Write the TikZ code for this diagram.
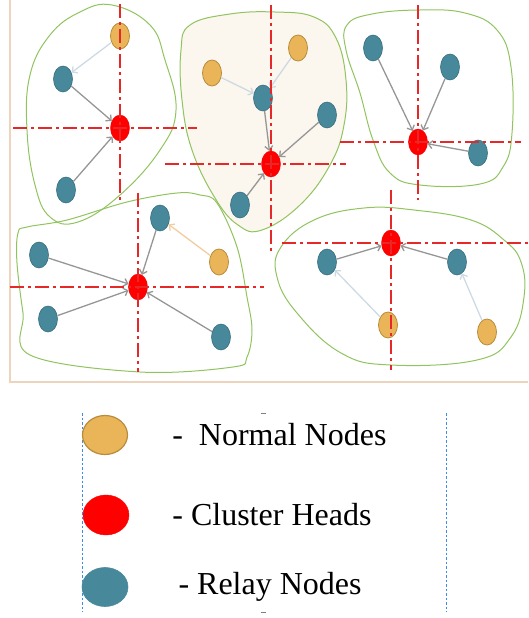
\documentclass[tikz,border=0pt]{standalone}
\usepackage{fontspec}
\setmainfont{Liberation Serif}
\usetikzlibrary{arrows.meta, shapes.geometric, positioning}

\definecolor{normalfill}{RGB}{233,181,88}
\definecolor{normaldraw}{RGB}{185,140,60}
\definecolor{relayfill}{RGB}{71,137,155}
\definecolor{relaydraw}{RGB}{58,112,128}
\definecolor{chred}{RGB}{255,0,0}
\definecolor{linkgray}{RGB}{150,150,150}
\definecolor{linklight}{RGB}{205,218,228}
\definecolor{linkorange}{RGB}{242,205,160}
\definecolor{blobgreen}{RGB}{145,195,95}
\definecolor{blobbeige}{RGB}{251,246,238}
\definecolor{axisred}{RGB}{230,40,40}
\definecolor{framebeige}{RGB}{238,212,188}
\definecolor{legblue}{RGB}{60,140,230}

\begin{document}
\begin{tikzpicture}[
        x=1pt, y=-1pt,
        nnode/.style={ellipse, draw=normaldraw, fill=normalfill, line width=0.8pt, minimum width=19pt, minimum height=26pt, inner sep=0pt},
        rnode/.style={ellipse, draw=relaydraw, fill=relayfill, line width=0.6pt, minimum width=19pt, minimum height=26pt, inner sep=0pt},
        chnode/.style={ellipse, draw=chred, fill=chred, minimum width=19pt, minimum height=26pt, inner sep=0pt},
        link/.style={-{Straight Barb[length=4pt, width=8pt]}, draw=linkgray, line width=1.3pt},
        weak/.style={link, draw=linklight},
        axis/.style={draw=axisred, line width=1.6pt, dash pattern=on 14pt off 4pt on 3pt off 4pt},
        blob/.style={draw=blobgreen, line width=1pt},
        legtext/.style={font=\fontsize{32}{38}\selectfont, inner sep=0pt}
    ]
    \useasboundingbox (0,0) rectangle (528,618);

    % Rahmen
    \draw [framebeige, line width=1.5pt] (10,0) -- (10,382) -- (528,382);

    % Cluster-Umrisse
    \draw [blob, fill=blobbeige] plot [smooth cycle, tension=0.7] coordinates {(190,25) (230,14) (275,12) (314,17) (336,38) (346,80) (344,125) (330,165) (300,205) (262,230) (238,225) (215,198) (192,150) (182,100) (181,50)};
    \draw [blob] plot [smooth cycle, tension=0.7] coordinates {(112,5) (150,25) (165,60) (176,110) (160,150) (120,195) (78,222) (50,217) (35,185) (27,130) (30,75) (50,35) (80,12)};
    \draw [blob] plot [smooth cycle, tension=0.7] coordinates {(347,25) (372,14) (420,10) (465,13) (497,30) (511,67) (512,133) (503,167) (480,184) (420,185) (390,173) (373,140) (360,93) (346,50)};
    \draw [blob] plot [smooth cycle, tension=0.6] coordinates {(27,227) (67,220) (127,202) (177,193) (200,195) (217,203) (237,247) (247,297) (252,330) (247,357) (233,367) (140,372) (30,355) (23,313) (17,263) (18,233)};
    \draw [blob] plot [smooth cycle, tension=0.7] coordinates {(281,247) (314,220) (364,208) (414,210) (471,220) (504,240) (521,262) (524,297) (511,337) (477,360) (391,365) (341,353) (297,313) (277,277)};

    % Cluster 1
    \node (n1a) [nnode] at (120,36) {};
    \node (r1a) [rnode] at (63,79) {};
    \node (ch1) [chnode] at (120,128) {};
    \node (r1b) [rnode] at (66,190) {};

    % Cluster 2
    \node (n2a) [nnode] at (212,73) {};
    \node (n2b) [nnode] at (298,48) {};
    \node (r2a) [rnode] at (263,98) {};
    \node (r2b) [rnode] at (327,115) {};
    \node (ch2) [chnode] at (271,164) {};
    \node (r2c) [rnode] at (240,205) {};

    % Cluster 3
    \node (r3a) [rnode] at (373,48) {};
    \node (r3b) [rnode] at (450,67) {};
    \node (ch3) [chnode] at (418,142) {};
    \node (r3c) [rnode] at (478,153) {};

    % Cluster 4
    \node (r4a) [rnode] at (160,218) {};
    \node (r4b) [rnode] at (39,255) {};
    \node (n4a) [nnode] at (219,262) {};
    \node (ch4) [chnode] at (138,287) {};
    \node (r4c) [rnode] at (48,319) {};
    \node (r4d) [rnode] at (221,337) {};

    % Cluster 5
    \node (ch5) [chnode] at (391,243) {};
    \node (r5a) [rnode] at (327,262) {};
    \node (r5b) [rnode] at (457,262) {};
    \node (n5a) [nnode] at (388,325) {};
    \node (n5b) [nnode] at (487,332) {};

    % Verbindungen
    \draw [weak] (n1a) -- (r1a);
    \draw [link] (r1a) -- (ch1);
    \draw [link] (r1b) -- (ch1);

    \draw [weak] (n2a) -- (r2a);
    \draw [weak] (n2b) -- (r2a);
    \draw [link] (r2a) -- (ch2);
    \draw [link] (r2b) -- (ch2);
    \draw [link] (r2c) -- (ch2);

    \draw [link] (r3a) -- (ch3);
    \draw [link] (r3b) -- (ch3);
    \draw [link] (r3c) -- (ch3);

    \draw [weak, draw=linkorange] (n4a) -- (r4a);
    \draw [link] (r4a) -- (ch4);
    \draw [link] (r4b) -- (ch4);
    \draw [link] (r4c) -- (ch4);
    \draw [link] (r4d) -- (ch4);

    \draw [link] (r5a) -- (ch5);
    \draw [link] (r5b) -- (ch5);
    \draw [weak] (n5a) -- (r5a);
    \draw [weak] (n5b) -- (r5b);

    % Achsen
    \draw [axis] ([xshift=-107pt]ch1.center) -- ([xshift=77pt]ch1.center);
    \draw [axis] ([yshift=124pt]ch1.center) -- ([yshift=-72pt]ch1.center);
    \draw [axis] ([xshift=-106pt]ch2.center) -- ([xshift=75pt]ch2.center);
    \draw [axis] ([yshift=159pt]ch2.center) -- ([yshift=-88pt]ch2.center);
    \draw [axis] ([xshift=-78pt]ch3.center) -- ([xshift=103pt]ch3.center);
    \draw [axis] ([yshift=137pt]ch3.center) -- ([yshift=-58pt]ch3.center);
    \draw [axis] ([xshift=-128pt]ch4.center) -- ([xshift=126pt]ch4.center);
    \draw [axis] ([yshift=94pt]ch4.center) -- ([yshift=-85pt]ch4.center);
    \draw [axis] ([xshift=-109pt]ch5.center) -- ([xshift=137pt]ch5.center);
    \draw [axis] ([yshift=53pt]ch5.center) -- ([yshift=-127pt]ch5.center);

    % Legende
    \draw [legblue, line width=0.7pt, dash pattern=on 2.5pt off 2pt] (82,413) -- (82,612);
    \draw [legblue, line width=0.7pt, dash pattern=on 2.5pt off 2pt] (446,413) -- (446,612);
    \draw [gray, line width=0.8pt] (261,413) -- (266,413);
    \draw [gray, line width=0.8pt] (261,612) -- (266,612);

    \node (lgnormal) [nnode, minimum width=45pt, minimum height=39pt, line width=1.2pt] at (105,435) {};
    \node (lghead) [chnode, minimum width=46pt, minimum height=40pt] at (106,515) {};
    \node (lgrelay) [rnode, minimum width=46pt, minimum height=39pt, draw=relayfill] at (105,587) {};

    \node (lgnormaltext) [legtext, anchor=west, right=44pt of lgnormal] {-\ \ Normal Nodes};
    \node (lgheadtext) [legtext, anchor=west, right=43pt of lghead] {- Cluster Heads};
    \node (lgrelaytext) [legtext, anchor=west, right=50pt of lgrelay] {- Relay Nodes};

\end{tikzpicture}
\end{document}
